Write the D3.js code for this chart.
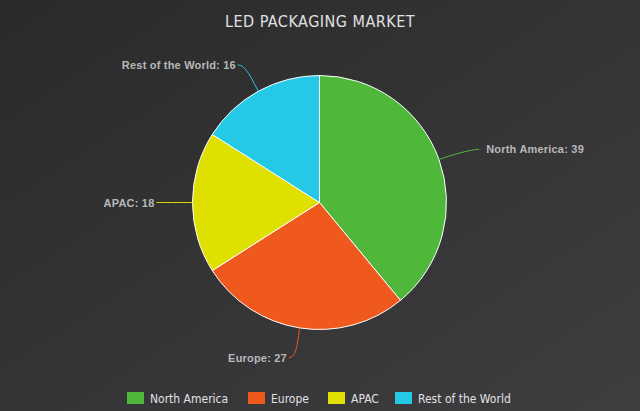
<!DOCTYPE html>
<html><head><meta charset="utf-8">
<script src="https://cdn.jsdelivr.net/npm/d3@7"></script>
<style>html,body{margin:0;padding:0;background:#333;}svg{display:block;}</style>
</head><body>
<svg id="chart" width="640" height="411"></svg>
<script>
const categories = ["North America", "Europe", "APAC", "Rest of the World"];
const values = [39, 27, 18, 16];
const colors = ["#4fb83a", "#f0591e", "#dfe000", "#24c9e6"];
const title = "LED PACKAGING MARKET";

const W = 640, H = 411;
const svg = d3.select("#chart");
const defs = svg.append("defs");
const g = defs.append("linearGradient").attr("id","bg").attr("x1",0).attr("y1",0).attr("x2",1).attr("y2",1);
g.append("stop").attr("offset","0").attr("stop-color","#2a2a2b");
g.append("stop").attr("offset","1").attr("stop-color","#3e3e40");
svg.append("rect").attr("width",W).attr("height",H).attr("fill","url(#bg)");

svg.append("text").attr("x",320).attr("y",27).attr("text-anchor","middle")
  .attr("font-family","'DejaVu Sans Condensed','Liberation Sans Narrow',sans-serif")
  .attr("font-size",16).attr("letter-spacing",0.5).attr("fill","#e0e0e3").text(title);

const cx = 319.5, cy = 202.5, r = 127;
const data = categories.map((c,i)=>({name:c, value:values[i], color:colors[i]}));
const pie = d3.pie().sort(null).value(d=>d.value);
const arcs = pie(data);
const arcGen = d3.arc().innerRadius(0).outerRadius(r);
const pg = svg.append("g").attr("transform",`translate(${cx},${cy})`);
pg.selectAll("path.slice").data(arcs).join("path").attr("class","slice")
  .attr("d",arcGen).attr("fill",d=>d.data.color).attr("stroke","#ffffff").attr("stroke-width",1).attr("stroke-linejoin","round");

const dist = 30;
arcs.forEach(a=>{
  const m = (a.startAngle+a.endAngle)/2;
  const s = Math.sin(m), c = Math.cos(m);
  const right = s >= 0;
  const ex = s*r, ey = -c*r;
  const ly = -c*(r+dist);
  let lx = s*(r+dist) + (right ? 12 : -6);
  const cxp = s*(r+dist*0.45), cyp = -c*(r+dist*0.45);
  pg.append("path")
    .attr("d",`M${lx},${ly} C${lx + (right?-8:8)},${ly} ${cxp},${cyp} ${ex},${ey}`)
    .attr("fill","none").attr("stroke",a.data.color).attr("stroke-width",1);
  pg.append("text").attr("x", lx + (right?7:-2)).attr("y", ly+4)
    .attr("text-anchor", right?"start":"end")
    .attr("font-family","'Liberation Sans',Arial,sans-serif").attr("font-weight","bold")
    .attr("font-size",11).attr("letter-spacing",0.2).attr("fill","#b8b8b8")
    .text(a.data.name + ": " + a.data.value);
});

// legend
const legendX = [127, 248, 328, 395];
const lg = svg.append("g");
data.forEach((d,i)=>{
  lg.append("rect").attr("x",legendX[i]).attr("y",392).attr("width",17).attr("height",12).attr("fill",d.color);
  lg.append("text").attr("x",legendX[i]+23).attr("y",403)
    .attr("font-family","'DejaVu Sans Condensed','Liberation Sans Narrow',sans-serif")
    .attr("font-size",12).attr("fill","#e0e0e3").text(d.name);
});
</script>
</body></html>
